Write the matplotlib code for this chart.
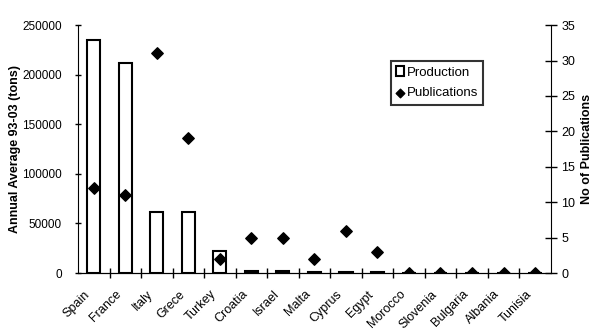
import matplotlib.pyplot as plt
import matplotlib.transforms as mtransforms
import numpy as np

plt.rcParams['font.family'] = ['Liberation Sans', 'DejaVu Sans']

countries = ["Spain", "France", "Italy", "Grece", "Turkey", "Croatia", "Israel", "Malta",
             "Cyprus", "Egypt", "Morocco", "Slovenia", "Bulgaria", "Albania", "Tunisia"]
production = [235500, 211500, 61500, 61500, 22000, 2000, 2000, 1000,
              1000, 1000, 500, 0, 0, 0, 0]
publications = [12, 11, 31, 19, 2, 5, 5, 2, 6, 3, 0, 0, 0, 0, 0]

fig = plt.figure(figsize=(6, 3.35), dpi=100)
ax = fig.add_axes([0.13, 0.185, 0.788, 0.74])
x = np.arange(len(countries))

ax.bar(x, production, width=0.42, facecolor="white", edgecolor="black", lw=1.5,
       label="Production")
ax.set_ylim(0, 250000)
ax.set_xlim(-0.5, len(countries) - 0.5)
ax.set_yticks(np.arange(0, 250001, 50000))
ax.set_ylabel("Annual Average 93-03 (tons)", fontsize=9, fontweight="bold", labelpad=1)
ax.set_xticks(x)
ax.set_xticklabels(countries, rotation=45, ha="right", rotation_mode="anchor", fontsize=9)
ax.tick_params(axis="x", length=0, pad=11)
# shift the slanted labels to the left, like the original
offset = mtransforms.ScaledTranslation(-7 / 72, 0, fig.dpi_scale_trans)
for lab in ax.get_xticklabels():
    lab.set_transform(lab.get_transform() + offset)
ax.set_xticks(np.arange(0.5, len(countries) - 0.5), minor=True)
ax.tick_params(axis="x", which="minor", direction="inout", length=7, width=1)
ax.tick_params(axis="y", labelsize=8.5, direction="inout", length=5, width=1, pad=9)
for s in ["top", "right"]:
    ax.spines[s].set_visible(False)

ax2 = ax.twinx()
ax2.scatter(x, publications, marker="D", s=34, color="black", zorder=3,
            label="Publications")
ax2.set_ylim(0, 35)
ax2.set_yticks(np.arange(0, 36, 5))
ax2.set_ylabel("No of Publications", fontsize=9, fontweight="bold")
ax2.tick_params(axis="y", labelsize=9, direction="inout", length=9, width=1, pad=3)
ax2.spines["top"].set_visible(False)
ax2.spines["left"].set_visible(False)

h1, l1 = ax.get_legend_handles_labels()
h2, l2 = ax2.get_legend_handles_labels()
leg = ax2.legend(h1 + h2, l1 + l2, loc="upper left", bbox_to_anchor=(0.662, 0.855),
                 fontsize=9.5, frameon=True, fancybox=False, handlelength=0.6,
                 handletextpad=0.2, borderpad=0.4, labelspacing=0.65, markerscale=0.75,
                 borderaxespad=0)
leg.get_frame().set_edgecolor("black")
leg.get_frame().set_linewidth(1.5)

fig.savefig("out.png", dpi=100)
